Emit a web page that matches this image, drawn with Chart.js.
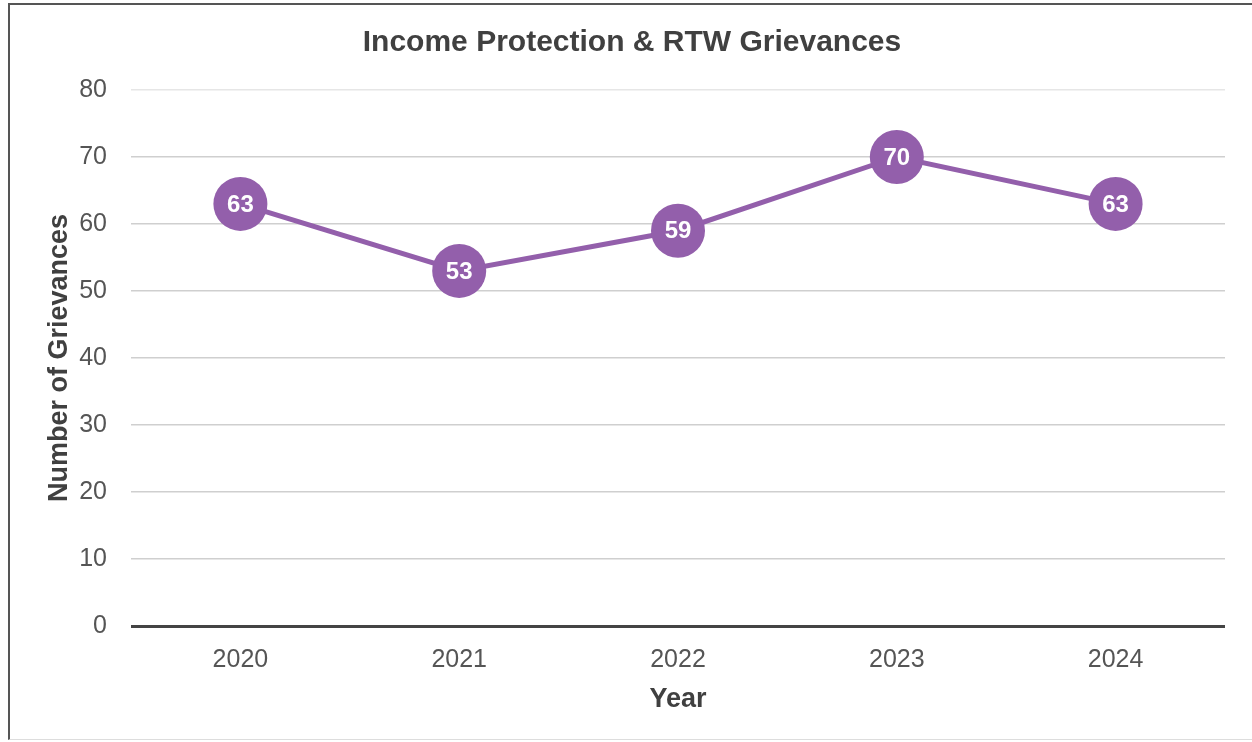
<!DOCTYPE html>
<html>
<head>
<meta charset="utf-8">
<script src="https://cdn.jsdelivr.net/npm/chart.js@4.4.1/dist/chart.umd.min.js"></script>
<style>
    html, body { margin: 0; padding: 0; background: #fff; }
    .frame {
        position: absolute;
        left: 8px; top: 3px;
        width: 1244px; height: 737px;
        border-top: 2px solid #555;
        border-left: 2px solid #555;
        border-bottom: 1px solid #ddd;
        box-sizing: border-box;
    }
    .frame canvas { display: block; }
</style>
</head>
<body>
<div class="frame"><canvas id="griefChart"></canvas></div>
<script>
// Dữ liệu biểu đồ
const years = ['2020', '2021', '2022', '2023', '2024'];
const grievances = [63, 53, 59, 70, 63];
const yTicks = [0, 10, 20, 30, 40, 50, 60, 70, 80];

const purple = '#935fab';
const fontFamily = '"Liberation Sans", Arial, sans-serif';

// Plugin vẽ nhãn giá trị trong các điểm
const pointLabels = {
    id: 'pointLabels',
    afterDatasetsDraw(chart) {
        const ctx = chart.ctx;
        const meta = chart.getDatasetMeta(0);
        ctx.save();
        ctx.fillStyle = '#fff';
        ctx.font = 'bold 24px ' + fontFamily;
        ctx.textAlign = 'center';
        ctx.textBaseline = 'middle';
        meta.data.forEach((pt, i) => {
            ctx.fillText(String(grievances[i]), pt.x, pt.y + 1);
        });
        ctx.restore();
    }
};

const ctx = document.getElementById('griefChart');
new Chart(ctx, {
    type: 'line',
    data: {
        labels: years,
        datasets: [{
            label: 'Grievances',
            data: grievances,
            borderColor: purple,
            backgroundColor: purple,
            borderWidth: 5,
            pointRadius: 27,
            pointHoverRadius: 27,
            pointBackgroundColor: purple,
            pointBorderColor: purple,
            pointBorderWidth: 0,
            tension: 0
        }]
    },
    options: {
        responsive: true,
        maintainAspectRatio: false,
        animation: false,
        layout: { padding: { top: 0, right: 27, bottom: 19, left: 29 } },
        plugins: {
            legend: { display: false },
            tooltip: { enabled: false },
            title: {
                display: true,
                text: 'Income Protection & RTW Grievances',
                color: '#404040',
                font: { family: fontFamily, size: 30, weight: 'bold' },
                padding: { top: 20, bottom: 29 }
            }
        },
        scales: {
            x: {
                offset: true,
                grid: { display: false },
                border: { display: false },
                afterFit(axis) { axis.height = 94; },
                ticks: {
                    color: '#555',
                    font: { family: fontFamily, size: 25 },
                    padding: 11
                },
                title: {
                    display: true,
                    text: 'Year',
                    color: '#404040',
                    font: { family: fontFamily, size: 27, weight: 'bold' },
                    padding: { top: 0 }
                }
            },
            y: {
                min: yTicks[0],
                max: yTicks[yTicks.length - 1],
                afterBuildTicks(axis) {
                    axis.ticks = yTicks.map(v => ({ value: v }));
                },
                afterFit(axis) { axis.width = 92; },
                grid: {
                    color: ctx => ctx.tick.value === 0 ? '#444' : (ctx.tick.value === 80 ? '#e6e6e6' : '#cfcfcf'),
                    lineWidth: ctx => ctx.tick.value === 0 ? 3 : 1.5,
                    drawTicks: false
                },
                border: { display: false },
                ticks: {
                    color: '#555',
                    font: { family: fontFamily, size: 25 },
                    padding: 24
                },
                title: {
                    display: true,
                    text: 'Number of Grievances',
                    color: '#404040',
                    font: { family: fontFamily, size: 27, weight: 'bold' },
                    padding: { bottom: 4 }
                }
            }
        }
    },
    plugins: [pointLabels]
});
</script>
</body>
</html>
